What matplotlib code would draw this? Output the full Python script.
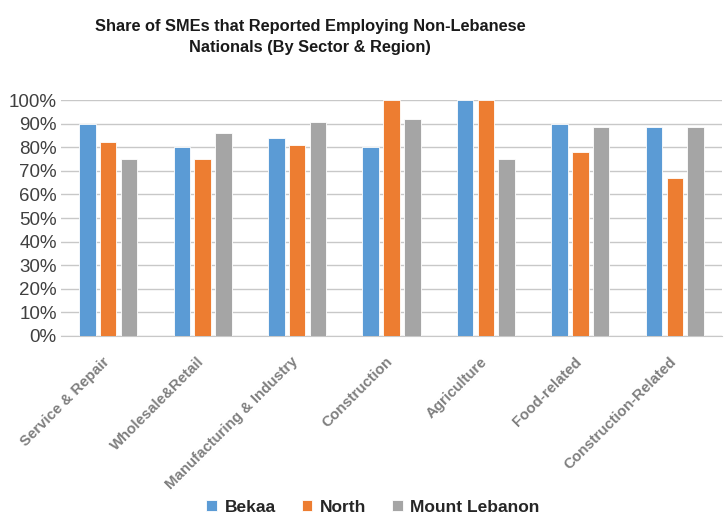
import numpy as np
import matplotlib.pyplot as plt
from matplotlib.ticker import PercentFormatter
from matplotlib.transforms import ScaledTranslation

plt.rcParams["font.family"] = ["Liberation Sans", "DejaVu Sans"]

sectors = [
    "Service & Repair",
    "Wholesale&Retail",
    "Manufacturing & Industry",
    "Construction",
    "Agriculture",
    "Food-related",
    "Construction-Related",
]
bekaa = [0.90, 0.80, 0.84, 0.80, 1.00, 0.90, 0.885]
north = [0.82, 0.75, 0.81, 1.00, 1.00, 0.78, 0.67]
mount_lebanon = [0.75, 0.86, 0.905, 0.92, 0.75, 0.885, 0.885]

series = [
    ("Bekaa", bekaa, "#5B9BD5"),
    ("North", north, "#ED7D31"),
    ("Mount Lebanon", mount_lebanon, "#A5A5A5"),
]

fig = plt.figure(figsize=(7.28, 5.16), dpi=100)
ax = fig.add_axes([61 / 728, 1 - 336 / 516, 661 / 728, 236 / 516])

x = np.arange(len(sectors))
bar_w = 0.175
step = 0.22
for i, (name, vals, color) in enumerate(series):
    ax.bar(x + (i - 1) * step, vals, bar_w, color=color, label=name,
           edgecolor="white", linewidth=0.6, zorder=3)

ax.set_ylim(0, 1)
ax.set_xlim(-0.5, len(sectors) - 0.5)
ax.set_yticks(np.arange(0, 1.01, 0.1))
ax.yaxis.set_major_formatter(PercentFormatter(1.0, decimals=0))
ax.grid(axis="y", color="#C8C8C8", linewidth=1.0, zorder=0)
for side in ["top", "right", "left"]:
    ax.spines[side].set_visible(False)
ax.spines["bottom"].set_color("#C8C8C8")
ax.tick_params(axis="y", length=0, labelsize=13.5, labelcolor="#404040", pad=3)
ax.tick_params(axis="x", length=0, pad=4)

ax.set_xticks(x)
labels = ax.set_xticklabels(sectors, rotation=45, ha="right", rotation_mode="anchor",
                            fontsize=10.8, fontweight="bold", color="#7F7F7F")
# Excel puts the rotated labels a bit lower and to the left of the tick
shift = ScaledTranslation(-6 / 100, -13 / 100, fig.dpi_scale_trans)
for lab in labels:
    lab.set_transform(lab.get_transform() + shift)

fig.text(310 / 728, 1 - 37 / 516,
         "Share of SMEs that Reported Employing Non-Lebanese\nNationals (By Sector & Region)",
         ha="center", va="center", fontsize=11.8, fontweight="bold",
         color="#1a1a1a", linespacing=1.45)

fig.legend(loc="center", bbox_to_anchor=(373 / 728, 1 - 507 / 516), ncol=3,
           frameon=False, handlelength=0.6, handleheight=0.6, handletextpad=0.45,
           columnspacing=1.5,
           prop={"size": 12.5, "weight": "bold"}, labelcolor="#262626")

fig.savefig("out.png", dpi=100)
